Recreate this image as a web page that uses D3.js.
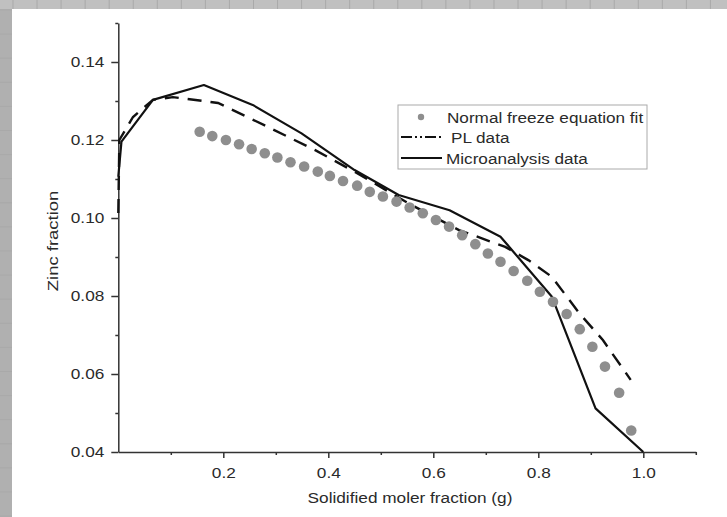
<!DOCTYPE html>
<html lang="en">
<head>
    <meta charset="UTF-8">
    <title>Zinc fraction</title>
    <script type="text/javascript" src="https://cdnjs.cloudflare.com/ajax/libs/d3/7.8.5/d3.min.js"></script>
    <style>
        body { margin: 0; background: #c0c0c0; }
        svg { display: block; font-family: "Liberation Sans", Arial, sans-serif; }
        .axis path, .axis line { stroke: #333; stroke-width: 1.5; }
        .axis text { fill: #2a2a2a; font-size: 14px; }
    </style>
</head>
<body>
<svg id="chart" width="727" height="517"></svg>

<script type="text/javascript">
    // Normal freeze equation fit (grey dots)
    const freezeG = [0.155, 0.179, 0.205, 0.230, 0.254, 0.279, 0.303, 0.328, 0.354, 0.380,
        0.403, 0.428, 0.455, 0.479, 0.504, 0.530, 0.555, 0.580, 0.605, 0.630,
        0.655, 0.680, 0.704, 0.728, 0.753, 0.779, 0.803, 0.828, 0.854, 0.879,
        0.903, 0.927, 0.954, 0.977];
    const freezeZn = [0.1221, 0.1210, 0.1200, 0.1189, 0.1177, 0.1166, 0.1155, 0.1143, 0.1132, 0.1119,
        0.1108, 0.1095, 0.1083, 0.1067, 0.1055, 0.1042, 0.1027, 0.1012, 0.0995, 0.0978,
        0.0956, 0.0933, 0.0909, 0.0888, 0.0864, 0.0839, 0.0811, 0.0785, 0.0754, 0.0715,
        0.0670, 0.0619, 0.0552, 0.0455];

    // PL data (dashed)
    const plG = [0, 0.002, 0.028, 0.066, 0.104, 0.190, 0.278, 0.375, 0.455, 0.552,
        0.649, 0.737, 0.781, 0.826, 0.878, 0.923, 0.976];
    const plZn = [0.1013, 0.1200, 0.1259, 0.1303, 0.1310, 0.1295, 0.1238, 0.1174, 0.1115, 0.1038,
        0.0969, 0.0926, 0.0892, 0.0849, 0.0756, 0.0687, 0.0585];

    // Microanalysis data (solid)
    const microG = [0, 0.006, 0.066, 0.163, 0.256, 0.349, 0.450, 0.534, 0.631, 0.728, 0.826, 0.909, 1.0];
    const microZn = [0.1106, 0.1196, 0.1303, 0.1341, 0.1290, 0.1217, 0.1123, 0.1059, 0.1020, 0.0952, 0.0798, 0.0512, 0.0400];

    const xTicks = [0.2, 0.4, 0.6, 0.8, 1.0];
    const xMinor = [0.1, 0.3, 0.5, 0.7, 0.9, 1.1];
    const yTicks = [0.04, 0.06, 0.08, 0.10, 0.12, 0.14];
    const yMinor = [0.05, 0.07, 0.09, 0.11, 0.13, 0.15];

    const legendLabels = ["Normal freeze equation fit", "PL data", "Microanalysis data"];

    const svg = d3.select("#chart");
    const W = 727, H = 517;
    const STRETCH = 1.23; // the text in the picture is wider than Arial

    // stretch text horizontally to match the wide lettering
    function widen(sel, k) {
        sel.each(function() {
            const w = this.getComputedTextLength();
            d3.select(this).attr("textLength", w * k).attr("lengthAdjust", "spacingAndGlyphs");
        });
    }

    // grey slide background with faint grid
    svg.append("rect").attr("width", W).attr("height", H).attr("fill", "#c0c0c0");
    svg.append("rect").attr("x", 0).attr("y", 9).attr("width", 12).attr("height", H - 9).attr("fill", "#b0b0b0");
    const grid = svg.append("g").attr("stroke", "#a9a9a9").attr("stroke-width", 1);
    grid.selectAll("line.v").data(d3.range(13, W, 24.05)).enter().append("line")
        .attr("x1", d => d).attr("x2", d => d).attr("y1", 0).attr("y2", 9);
    grid.selectAll("line.h").data(d3.range(10, H, 24.1)).enter().append("line")
        .attr("x1", 0).attr("x2", 12).attr("y1", d => d).attr("y2", d => d);
    svg.append("rect").attr("x", 12).attr("y", 9).attr("width", W - 12).attr("height", H - 9).attr("fill", "#fff");

    const x = d3.scaleLinear().domain([0, 1.1]).range([118.3, 695.8]);
    const y = d3.scaleLinear().domain([0.04, 0.15]).range([452, 23]);

    // axes
    const xAxis = svg.append("g").attr("class", "axis").attr("transform", "translate(0,452)")
        .call(d3.axisBottom(x).tickValues(xTicks).tickFormat(d3.format(".1f")).tickSize(6).tickSizeOuter(0));
    xAxis.selectAll(".tick text").attr("y", 16).attr("dy", "0.71em");
    widen(xAxis.selectAll(".tick text"), STRETCH);
    svg.append("g").attr("class", "axis").attr("transform", "translate(0,452)")
        .call(d3.axisBottom(x).tickValues(xMinor).tickFormat("").tickSize(3).tickSizeOuter(0))
        .select(".domain").remove();

    const yAxis = svg.append("g").attr("class", "axis").attr("transform", "translate(118.3,0)")
        .call(d3.axisLeft(y).tickValues(yTicks).tickFormat(d3.format(".2f")).tickSize(7).tickSizeOuter(0));
    yAxis.selectAll(".tick text").attr("x", -14);
    widen(yAxis.selectAll(".tick text"), STRETCH);
    svg.append("g").attr("class", "axis").attr("transform", "translate(118.3,0)")
        .call(d3.axisLeft(y).tickValues(yMinor).tickFormat("").tickSize(3).tickSizeOuter(0))
        .select(".domain").remove();

    // axis titles
    const xTitle = svg.append("text").attr("x", 410).attr("y", 503)
        .attr("text-anchor", "middle").attr("fill", "#2a2a2a").style("font-size", "14px")
        .text("Solidified moler fraction (g)");
    widen(xTitle, STRETCH);
    const yTitle = svg.append("text").attr("transform", "translate(58,241) rotate(-90)")
        .attr("text-anchor", "middle").attr("fill", "#2a2a2a").style("font-size", "15px")
        .text("Zinc fraction");
    widen(yTitle, STRETCH);

    // in the plot the dots of the dash pattern are washed out, only the dashes show
    const plDash = "14,9";
    const legendDash = "11,3,2,3,2,3";

    // series
    const line = d3.line().x(d => x(d[0])).y(d => y(d[1]));
    svg.append("path").datum(d3.zip(plG, plZn))
        .attr("d", line).attr("fill", "none").attr("stroke", "#111")
        .attr("stroke-width", 2.4).attr("stroke-dasharray", plDash);
    svg.append("path").datum(d3.zip(microG, microZn))
        .attr("d", line).attr("fill", "none").attr("stroke", "#111")
        .attr("stroke-width", 2.2).attr("stroke-linejoin", "round");
    svg.append("g").selectAll("circle").data(d3.zip(freezeG, freezeZn)).enter().append("circle")
        .attr("cx", d => x(d[0])).attr("cy", d => y(d[1])).attr("r", 5.3)
        .attr("fill", "#8e8e8e");

    // legend
    const legend = svg.append("g");
    legend.append("rect").attr("x", 398).attr("y", 105).attr("width", 249).attr("height", 64)
        .attr("fill", "#fff").attr("stroke", "#aaa").attr("stroke-width", 1);
    const rowY = [117, 137, 158];
    const textX = [447, 451, 446];
    legend.append("circle").attr("cx", 421).attr("cy", rowY[0]).attr("r", 3.2).attr("fill", "#8e8e8e");
    legend.append("line").attr("x1", 401).attr("x2", 442).attr("y1", rowY[1]).attr("y2", rowY[1])
        .attr("stroke", "#111").attr("stroke-width", 2.2).attr("stroke-dasharray", legendDash);
    legend.append("line").attr("x1", 401).attr("x2", 442).attr("y1", rowY[2]).attr("y2", rowY[2])
        .attr("stroke", "#111").attr("stroke-width", 2.2);
    const ltext = legend.selectAll("text.lab").data(legendLabels).enter().append("text")
        .attr("x", (d, i) => textX[i]).attr("y", (d, i) => rowY[i] + 5.5)
        .attr("fill", "#2a2a2a").style("font-size", "14px").text(d => d);
    widen(ltext, STRETCH * 0.995);
</script>

</body>
</html>
